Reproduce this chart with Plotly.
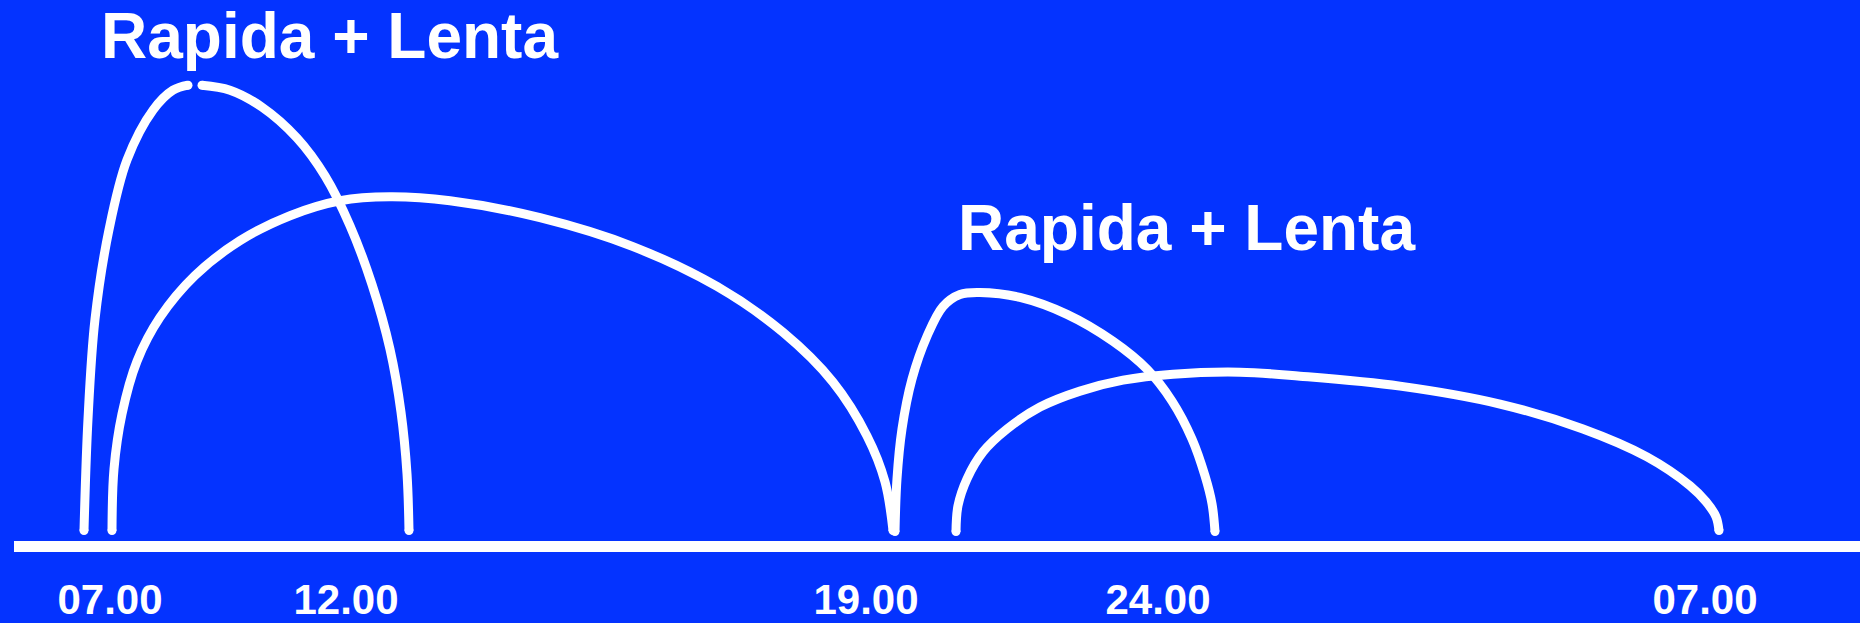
import plotly.graph_objects as go

# x positions along the day axis, heights above the baseline
FAST1_LEFT_X = [84, 88, 95, 109, 127, 153, 173, 188]
FAST1_LEFT_Y = [16, 128, 228, 318, 388, 438, 458, 463]
FAST1_RIGHT_X = [202, 230, 262, 297, 325, 350, 372, 390, 401, 407, 409]
FAST1_RIGHT_Y = [463, 458, 441, 410, 372, 322, 263, 198, 135, 73, 16]

SLOW1_X = [112, 114, 122, 137, 160, 195, 240, 290, 340, 390, 450, 540,
           633, 717, 783, 833, 867, 885, 893]
SLOW1_Y = [16, 78, 133, 186, 230, 272, 307, 332, 347, 351, 347, 330,
           301, 261, 215, 165, 111, 65, 16]

FAST2_X = [895, 897, 902, 912, 927, 943, 960, 980, 1020, 1067, 1113, 1147,
           1172, 1192, 1205, 1212, 1215]
FAST2_Y = [15, 68, 118, 168, 211, 241, 253, 255, 250, 233, 206, 178,
           146, 108, 71, 43, 15]

SLOW2_X = [956, 958, 967, 983, 1007, 1040, 1080, 1123, 1173, 1240, 1300,
           1400, 1500, 1583, 1647, 1690, 1706, 1716, 1719]
SLOW2_Y = [15, 41, 68, 95, 118, 140, 156, 167, 173, 175, 171,
           161, 143, 118, 90, 61, 45, 30, 16]

TICK_POS = [110, 346, 866, 1158, 1705]
TICK_TEXT = ["07.00", "12.00", "19.00", "24.00", "07.00"]

LABELS = ["Rapida + Lenta", "Rapida + Lenta"]
LABEL_X = [329, 1186]
LABEL_Y = [512, 320]

BG = "#0433FF"
FONT = "Liberation Sans, Arial, sans-serif"
LW = 9

fig = go.Figure()

curves = [
    (FAST1_LEFT_X, FAST1_LEFT_Y),
    (FAST1_RIGHT_X, FAST1_RIGHT_Y),
    (SLOW1_X, SLOW1_Y),
    (FAST2_X, FAST2_Y),
    (SLOW2_X, SLOW2_Y),
]
for xs, ys in curves:
    # round caps at both ends
    sizes = [LW] + [0] * (len(xs) - 2) + [LW]
    fig.add_trace(go.Scatter(
        x=xs, y=ys, mode="lines+markers",
        line=dict(color="white", width=LW, shape="spline", smoothing=1.0,
                  simplify=False),
        marker=dict(size=sizes, color="white", opacity=1, line=dict(width=0)),
        hoverinfo="skip", showlegend=False,
    ))

# baseline
fig.add_shape(type="line", x0=14, x1=1860, y0=0, y1=0,
              xref="x", yref="y", line=dict(color="white", width=11))

for txt, lx, ly in zip(LABELS, LABEL_X, LABEL_Y):
    fig.add_annotation(x=lx, y=ly, text=txt, showarrow=False,
                       xanchor="center", yanchor="middle",
                       font=dict(family=FONT, size=64, color="white", weight="bold"))

fig.update_layout(
    width=1860, height=623,
    paper_bgcolor=BG, plot_bgcolor=BG,
    margin=dict(l=0, r=0, t=0, b=58),
    showlegend=False,
    xaxis=dict(range=[0, 1860], showgrid=False, zeroline=False, showline=False,
               tickmode="array", tickvals=TICK_POS, ticktext=TICK_TEXT,
               ticks="", ticklen=0, ticklabelstandoff=8,
               tickfont=dict(family=FONT, size=42, color="white", weight="bold"),
               fixedrange=True),
    yaxis=dict(range=[-16.5, 548.5], showgrid=False, zeroline=False,
               showline=False, showticklabels=False, fixedrange=True),
)

fig.write_html(
    "out.html",
    config={"displayModeBar": False},
    post_script="document.body.style.margin='0';"
                "document.body.style.background='#0433FF';"
                "document.body.style.overflow='hidden';",
)
